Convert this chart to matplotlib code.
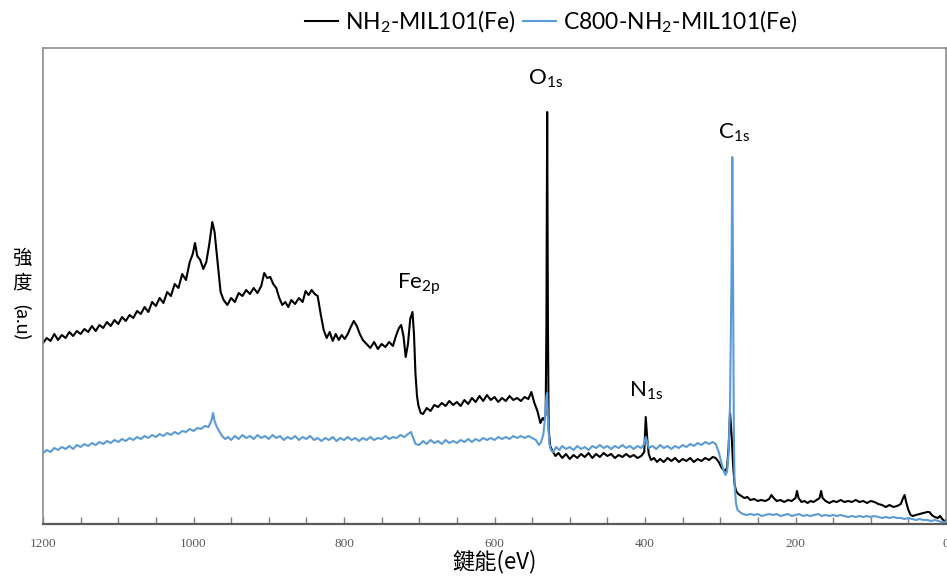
import matplotlib
matplotlib.use("Agg")
import matplotlib.pyplot as plt
from matplotlib.ticker import MultipleLocator

plt.rcParams['font.family'] = ['Lato', 'Noto Sans CJK TC', 'DejaVu Sans']
plt.rcParams['mathtext.fontset'] = 'custom'
plt.rcParams['mathtext.rm'] = 'Lato'

# (binding energy eV, intensity a.u.)
nh2_points = [
    (1200, 181), (1195, 186), (1190, 183), (1185, 190), (1180, 184), (1175, 189), (1170, 186), (1165, 192),
    (1160, 188), (1155, 193), (1150, 190), (1145, 195), (1140, 192), (1135, 198), (1130, 193), (1125, 199),
    (1120, 196), (1115, 202), (1110, 198), (1105, 204), (1100, 200), (1095, 207), (1090, 203), (1085, 209),
    (1080, 206), (1075, 213), (1070, 210), (1065, 217), (1060, 212), (1055, 222), (1050, 218), (1045, 226),
    (1040, 221), (1035, 232), (1030, 228), (1025, 240), (1020, 236), (1015, 250), (1010, 244), (1005, 262),
    (1001, 270), (998, 281), (995, 268), (991, 264), (987, 255), (983, 262), (979, 280), (975, 302),
    (972, 292), (968, 262), (964, 232), (960, 224), (955, 219), (950, 226), (945, 222), (940, 231),
    (935, 228), (930, 234), (925, 230), (920, 236), (915, 231), (910, 238), (906, 251), (902, 246),
    (898, 247), (894, 240), (890, 236), (886, 226), (882, 219), (878, 222), (874, 217), (870, 224),
    (865, 220), (860, 226), (855, 222), (851, 233), (847, 229), (843, 234), (839, 230), (835, 228),
    (831, 210), (827, 194), (823, 186), (819, 192), (815, 183), (811, 190), (807, 184), (803, 189),
    (799, 185), (795, 190), (791, 197), (787, 203), (783, 198), (779, 190), (775, 184), (770, 180),
    (765, 176), (760, 182), (755, 175), (750, 180), (745, 177), (740, 182), (735, 178), (731, 188),
    (727, 196), (724, 199), (721, 188), (718, 167), (715, 180), (712, 205), (709, 212), (707, 190),
    (705, 150), (703, 128), (701, 118), (698, 111), (695, 110), (690, 116), (685, 113), (680, 119),
    (675, 117), (670, 121), (665, 118), (660, 123), (655, 119), (650, 122), (645, 118), (640, 124),
    (635, 120), (630, 126), (625, 122), (620, 128), (615, 123), (610, 129), (605, 124), (600, 127),
    (595, 122), (590, 126), (585, 123), (580, 128), (575, 124), (570, 126), (565, 123), (560, 127),
    (555, 125), (551, 132), (547, 121), (543, 113), (539, 101), (536, 106), (534, 104), (532, 110),
    (531, 200), (530, 412), (529, 200), (528, 95), (526, 78), (523, 73), (519, 68), (515, 71),
    (510, 66), (505, 70), (500, 65), (495, 69), (490, 66), (485, 70), (480, 67), (475, 71),
    (470, 66), (465, 70), (460, 67), (455, 71), (450, 68), (445, 70), (440, 66), (435, 69),
    (430, 67), (425, 70), (420, 67), (415, 69), (410, 66), (405, 68), (401, 72), (399, 107),
    (397, 85), (395, 70), (392, 64), (388, 66), (384, 62), (380, 65), (375, 62), (370, 66),
    (365, 63), (360, 66), (355, 62), (350, 65), (345, 63), (340, 66), (335, 62), (330, 65),
    (325, 63), (320, 66), (315, 64), (310, 67), (306, 66), (302, 62), (298, 56), (294, 53),
    (291, 56), (289, 75), (287, 111), (285, 90), (283, 60), (281, 40), (279, 33), (276, 30),
    (272, 28), (268, 26), (264, 27), (260, 24), (255, 25), (250, 23), (246, 24), (240, 23),
    (235, 25), (232, 29), (229, 26), (225, 23), (220, 24), (215, 22), (210, 24), (205, 23),
    (200, 26), (198, 33), (196, 26), (192, 22), (188, 23), (184, 21), (180, 23), (176, 22),
    (172, 24), (168, 26), (166, 33), (164, 26), (160, 23), (155, 21), (150, 23), (145, 22),
    (140, 24), (135, 22), (130, 23), (125, 22), (120, 24), (115, 22), (110, 23), (105, 21),
    (100, 23), (95, 22), (90, 20), (85, 19), (80, 17), (75, 19), (70, 17), (65, 18),
    (60, 20), (57, 26), (55, 29), (53, 22), (50, 14), (47, 9), (44, 8), (40, 9),
    (35, 10), (30, 11), (25, 12), (22, 12), (19, 9), (15, 7), (11, 6), (8, 8),
    (5, 5), (2, 3), (0, 2),
]

c800_points = [
    (1200, 71), (1195, 74), (1190, 72), (1185, 76), (1180, 74), (1175, 77), (1170, 75), (1165, 78),
    (1160, 75), (1155, 79), (1150, 77), (1145, 80), (1140, 78), (1135, 81), (1130, 79), (1125, 82),
    (1120, 80), (1115, 83), (1110, 81), (1105, 84), (1100, 82), (1095, 85), (1090, 83), (1085, 86),
    (1080, 84), (1075, 87), (1070, 85), (1065, 88), (1060, 86), (1055, 89), (1050, 87), (1045, 90),
    (1040, 88), (1035, 91), (1030, 89), (1025, 92), (1020, 90), (1015, 93), (1010, 92), (1005, 95),
    (1000, 93), (995, 96), (990, 95), (985, 98), (980, 97), (976, 104), (974, 111), (972, 103),
    (969, 97), (966, 93), (962, 88), (958, 85), (954, 87), (950, 84), (945, 88), (940, 85),
    (935, 89), (930, 86), (925, 88), (920, 85), (915, 89), (910, 86), (905, 88), (900, 85),
    (895, 89), (890, 86), (885, 88), (880, 84), (875, 87), (870, 85), (865, 88), (860, 84),
    (855, 87), (850, 85), (845, 88), (840, 84), (835, 86), (830, 83), (825, 86), (820, 84),
    (815, 87), (810, 83), (805, 86), (800, 84), (795, 87), (790, 84), (785, 86), (780, 83),
    (775, 86), (770, 84), (765, 87), (760, 84), (755, 86), (750, 85), (745, 88), (740, 85),
    (735, 87), (730, 86), (725, 89), (720, 87), (715, 90), (711, 92), (708, 86), (705, 80),
    (700, 79), (695, 83), (690, 80), (685, 84), (680, 81), (675, 83), (670, 80), (665, 84),
    (660, 81), (655, 83), (650, 81), (645, 84), (640, 82), (635, 85), (630, 82), (625, 85),
    (620, 83), (615, 86), (610, 84), (605, 86), (600, 84), (595, 87), (590, 85), (585, 87),
    (580, 85), (575, 88), (570, 86), (565, 88), (560, 86), (555, 88), (550, 86), (545, 84),
    (541, 79), (538, 82), (535, 90), (533, 105), (531, 128), (530, 131), (529, 105), (527, 80),
    (525, 74), (522, 72), (518, 77), (514, 74), (510, 78), (505, 75), (500, 77), (495, 74),
    (490, 78), (485, 75), (480, 77), (475, 74), (470, 78), (465, 76), (460, 79), (455, 76),
    (450, 78), (445, 75), (440, 78), (435, 76), (430, 79), (425, 76), (420, 78), (415, 75),
    (410, 78), (405, 76), (401, 80), (399, 87), (397, 82), (395, 76), (390, 78), (385, 75),
    (380, 79), (375, 76), (370, 78), (365, 75), (360, 78), (355, 76), (350, 79), (345, 77),
    (340, 80), (335, 78), (330, 81), (325, 79), (320, 82), (315, 80), (310, 82), (306, 80),
    (302, 72), (298, 60), (295, 52), (293, 49), (291, 52), (289, 70), (287, 120), (285, 250),
    (284, 367), (283, 250), (282, 100), (281, 40), (279, 20), (277, 14), (274, 12), (270, 10),
    (265, 9), (260, 10), (255, 9), (250, 10), (245, 8), (240, 9), (235, 10), (230, 9),
    (225, 10), (220, 8), (215, 9), (210, 10), (205, 8), (200, 9), (195, 10), (190, 8),
    (185, 9), (180, 8), (175, 9), (170, 10), (165, 8), (160, 9), (155, 8), (150, 9),
    (145, 8), (140, 9), (135, 8), (130, 7), (125, 8), (120, 7), (115, 8), (110, 7),
    (105, 8), (100, 7), (95, 8), (90, 7), (85, 6), (80, 7), (75, 6), (70, 7),
    (65, 6), (60, 6), (55, 5), (50, 6), (45, 5), (40, 4), (35, 5), (30, 4),
    (25, 4), (20, 3), (15, 4), (10, 3), (5, 2), (0, 2),
]

series_labels = [r"NH$_\mathregular{2}$-MIL101(Fe)", r"C800-NH$_\mathregular{2}$-MIL101(Fe)"]
peak_labels = [r"O$_\mathregular{1s}$", r"Fe$_\mathregular{2p}$", r"N$_\mathregular{1s}$", r"C$_\mathregular{1s}$"]
peak_pos = [(532, 445), (700, 240), (398, 133), (282, 391)]

nh2_ev, nh2_int = zip(*nh2_points)
c800_ev, c800_int = zip(*c800_points)

fig = plt.figure(figsize=(9.47, 5.76), dpi=100)
ax = fig.add_axes([43 / 947, 52 / 576, 903 / 947, 476 / 576])

ax.plot(nh2_ev, nh2_int, color='black', lw=1.5, label=series_labels[0])
ax.plot(c800_ev, c800_int, color='#5B9BD5', lw=1.5, label=series_labels[1])

for txt, (xp, yp) in zip(peak_labels, peak_pos):
    ax.text(xp, yp, txt, fontsize=16, ha='center', va='center')

ax.set_xlim(1200, 0)
ax.set_ylim(0, 476)
ax.xaxis.set_major_locator(MultipleLocator(200))
ax.xaxis.set_minor_locator(MultipleLocator(50))
ax.tick_params(axis='x', which='both', direction='in', length=5, color='#7f7f7f', width=1,
               pad=10, labelsize=9.5, labelcolor='#595959')
for lab in ax.get_xticklabels():
    lab.set_family('Liberation Serif')
ax.set_yticks([])

for side in ['top', 'left', 'right']:
    ax.spines[side].set_color('#8c8c8c')
    ax.spines[side].set_linewidth(1.2)
ax.spines['bottom'].set_color('#595959')
ax.spines['bottom'].set_linewidth(1.6)

ax.set_xlabel("鍵能(eV)", fontsize=16, labelpad=0, family=['Noto Sans CJK TC', 'DejaVu Sans'])

# vertical y label: CJK chars upright, "(a.u)" rotated
fig.text(22 / 947, 1 - 258 / 576, "強", fontsize=14, ha='center', va='center',
         family=['Noto Sans CJK TC'])
fig.text(22 / 947, 1 - 283 / 576, "度", fontsize=14, ha='center', va='center',
         family=['Noto Sans CJK TC'])
fig.text(22 / 947, 1 - 322 / 576, "(a.u)", fontsize=14, ha='center', va='center', rotation=270)

fig.legend(loc='center', bbox_to_anchor=(0.582, 1 - 22 / 576), ncol=2, frameon=False,
           fontsize=16.5, handlelength=1.45, handletextpad=0.3, columnspacing=0.3)

fig.savefig("out.png", dpi=100)
